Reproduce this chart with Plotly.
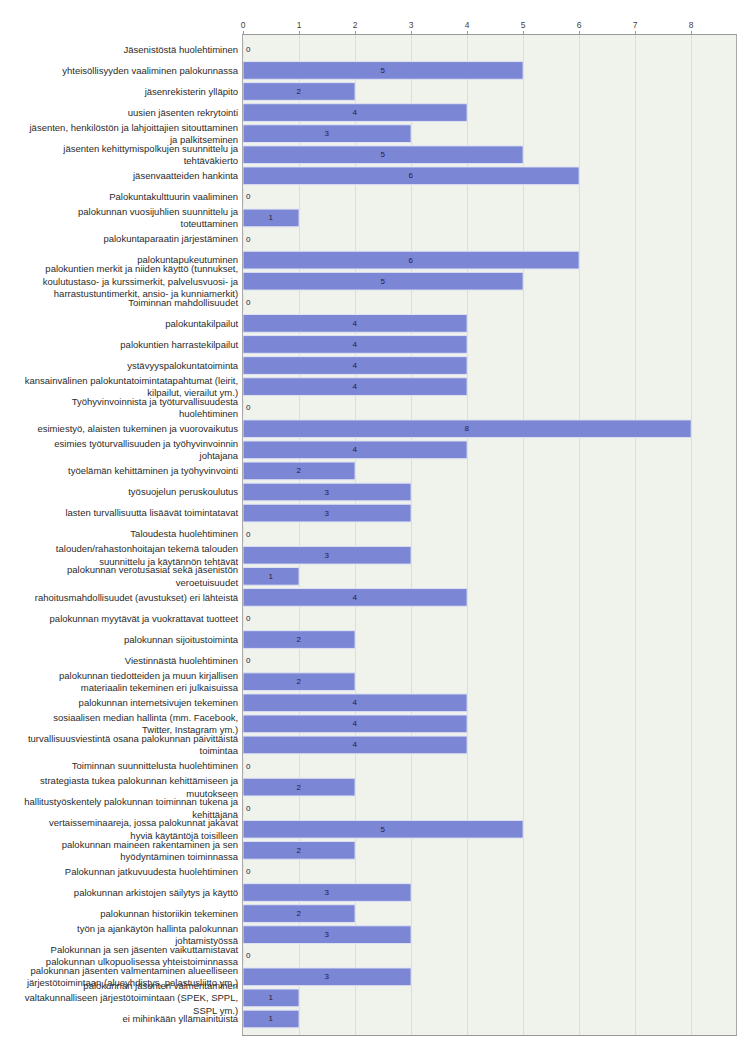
import plotly.graph_objects as go

categories = [
    "Jäsenistöstä huolehtiminen",
    "yhteisöllisyyden vaaliminen palokunnassa",
    "jäsenrekisterin ylläpito",
    "uusien jäsenten rekrytointi",
    "jäsenten, henkilöstön ja lahjoittajien sitouttaminen\nja palkitseminen",
    "jäsenten kehittymispolkujen suunnittelu ja\ntehtäväkierto",
    "jäsenvaatteiden hankinta",
    "Palokuntakulttuurin vaaliminen",
    "palokunnan vuosijuhlien suunnittelu ja\ntoteuttaminen",
    "palokuntaparaatin järjestäminen",
    "palokuntapukeutuminen",
    "palokuntien merkit ja niiden käyttö (tunnukset,\nkoulutustaso- ja kurssimerkit, palvelusvuosi- ja\nharrastustuntimerkit, ansio- ja kunniamerkit)",
    "Toiminnan mahdollisuudet",
    "palokuntakilpailut",
    "palokuntien harrastekilpailut",
    "ystävyyspalokuntatoiminta",
    "kansainvälinen palokuntatoimintatapahtumat (leirit,\nkilpailut, vierailut ym.)",
    "Työhyvinvoinnista ja työturvallisuudesta\nhuolehtiminen",
    "esimiestyö, alaisten tukeminen ja vuorovaikutus",
    "esimies työturvallisuuden ja työhyvinvoinnin\njohtajana",
    "työelämän kehittäminen ja työhyvinvointi",
    "työsuojelun peruskoulutus",
    "lasten turvallisuutta lisäävät toimintatavat",
    "Taloudesta huolehtiminen",
    "talouden/rahastonhoitajan tekemä talouden\nsuunnittelu ja käytännön tehtävät",
    "palokunnan verotusasiat sekä jäsenistön\nveroetuisuudet",
    "rahoitusmahdollisuudet (avustukset) eri lähteistä",
    "palokunnan myytävät ja vuokrattavat tuotteet",
    "palokunnan sijoitustoiminta",
    "Viestinnästä huolehtiminen",
    "palokunnan tiedotteiden ja muun kirjallisen\nmateriaalin tekeminen eri julkaisuissa",
    "palokunnan internetsivujen tekeminen",
    "sosiaalisen median hallinta (mm. Facebook,\nTwitter, Instagram ym.)",
    "turvallisuusviestintä osana palokunnan päivittäistä\ntoimintaa",
    "Toiminnan suunnittelusta huolehtiminen",
    "strategiasta tukea palokunnan kehittämiseen ja\nmuutokseen",
    "hallitustyöskentely palokunnan toiminnan tukena ja\nkehittäjänä",
    "vertaisseminaareja, jossa palokunnat jakavat\nhyviä käytäntöjä toisilleen",
    "palokunnan maineen rakentaminen ja sen\nhyödyntäminen toiminnassa",
    "Palokunnan jatkuvuudesta huolehtiminen",
    "palokunnan arkistojen säilytys ja käyttö",
    "palokunnan historiikin tekeminen",
    "työn ja ajankäytön hallinta palokunnan\njohtamistyössä",
    "Palokunnan ja sen jäsenten vaikuttamistavat\npalokunnan ulkopuolisessa yhteistoiminnassa",
    "palokunnan jäsenten valmentaminen alueelliseen\njärjestötoimintaan (alueyhdistys, pelastusliitto ym.)",
    "palokunnan jäsenten valmentaminen\nvaltakunnalliseen järjestötoimintaan (SPEK, SPPL,\nSSPL ym.)",
    "ei mihinkään yllämainituista",
]

values = [0, 5, 2, 4, 3, 5, 6, 0, 1, 0, 6, 5, 0, 4, 4, 4, 4, 0, 8, 4, 2, 3, 3,
          0, 3, 1, 4, 0, 2, 0, 2, 4, 4, 4, 0, 2, 0, 5, 2, 0, 3, 2, 3, 0, 3, 1, 1]

x_ticks = [0, 1, 2, 3, 4, 5, 6, 7, 8]

labels = [c.replace("\n", "<br>") for c in categories]
ids = list(range(len(categories)))
n = len(categories)

fig = go.Figure(go.Bar(
    y=ids,
    x=values,
    orientation="h",
    marker=dict(color="#7b86d5", line=dict(color="#dfe3f3", width=1)),
    text=[str(v) for v in values],
    textposition=["outside" if v == 0 else "inside" for v in values],
    insidetextanchor="middle",
    textfont=dict(family="Liberation Sans, Arial, sans-serif", size=8, color="#222244"),
    cliponaxis=False,
    width=0.84,
))

fig.update_layout(
    width=742, height=1042,
    margin=dict(l=235, r=14, t=22, b=15),
    paper_bgcolor="white",
    plot_bgcolor="#f0f2ec",
    showlegend=False,
    font=dict(family="Liberation Sans, Arial, sans-serif", size=9.5, color="#2b2b2b"),
    xaxis=dict(
        side="top",
        range=[0, 8.8],
        tickvals=x_ticks,
        ticktext=[str(t) for t in x_ticks],
        showgrid=True, gridcolor="#dcdfd6", gridwidth=1,
        showline=True, linecolor="#999999", linewidth=1, mirror=True,
        zeroline=False,
        ticks="outside", ticklen=3, tickcolor="#999999",
        tickfont=dict(size=8.5, color="#444444"),
    ),
    yaxis=dict(
        tickvals=ids,
        ticktext=labels,
        range=[n - 1 + 0.76, -0.68],
        showgrid=False,
        showline=True, linecolor="#aaaaaa", linewidth=1, mirror=True,
        zeroline=False,
        ticks="",
        ticklabelstandoff=2,
    ),
)

fig.write_html("out.html")
